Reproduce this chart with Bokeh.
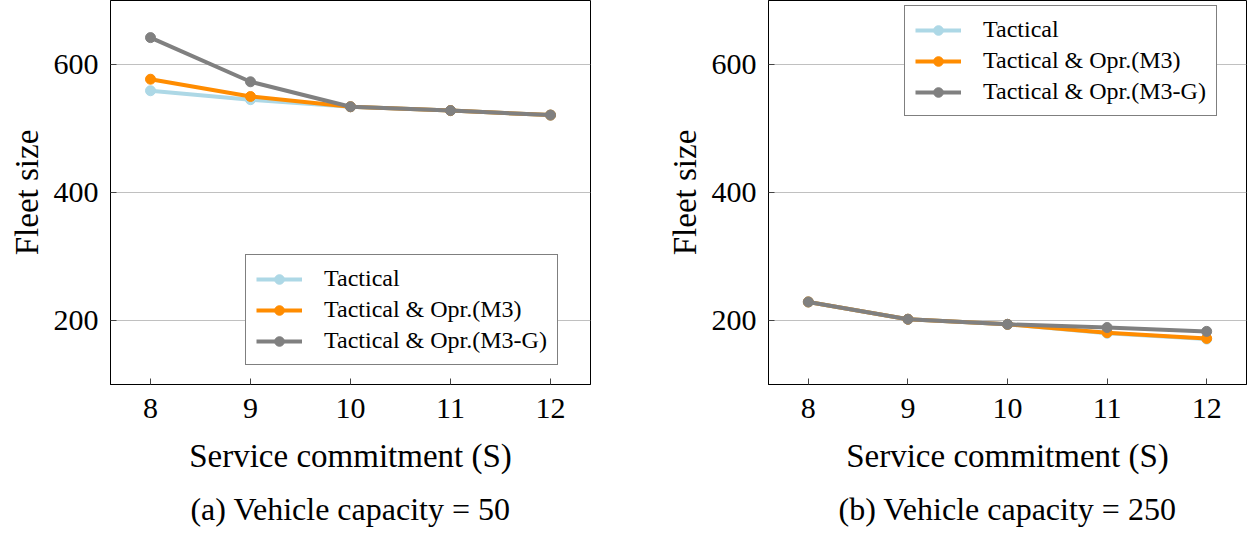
from bokeh.plotting import figure
from bokeh.layouts import row
from bokeh.models import Title, Legend, LegendItem, Range1d, FixedTicker
from bokeh.embed import file_html
from bokeh.resources import INLINE

S = [8, 9, 10, 11, 12]
tactical_50 = [559, 545, 534, 528, 521]
m3_50 = [577, 550, 534, 528, 521]
m3g_50 = [642, 573, 534, 528, 521]
tactical_250 = [229, 202, 194, 180, 171]
m3_250 = [229, 202, 194, 181, 172]
m3g_250 = [229, 202, 194, 189, 183]

series_names = ["Tactical", "Tactical & Opr.(M3)", "Tactical & Opr.(M3-G)"]
colors = ["#add8e6", "#ff8c00", "#808080"]
x_ticks = [8, 9, 10, 11, 12]
y_ticks = [200, 400, 600]
captions = ["(a) Vehicle capacity = 50", "(b) Vehicle capacity = 250"]
FONT = "Liberation Serif"


def make_plot(data, caption, border_left, border_right, frame_w, legend_loc):
    p = figure(frame_width=frame_w, frame_height=384, height=530,
               min_border_left=border_left, min_border_right=border_right,
               min_border_top=0, output_backend="svg", toolbar_location=None,
               x_range=Range1d(7.6, 12.4), y_range=Range1d(100, 700))
    p.background_fill_color = "white"
    p.border_fill_color = "white"
    p.outline_line_color = "black"
    p.outline_line_width = 1
    p.xgrid.visible = False
    p.ygrid.grid_line_color = "#c0c0c0"
    p.ygrid.grid_line_width = 1
    p.xaxis.ticker = FixedTicker(ticks=x_ticks)
    p.yaxis.ticker = FixedTicker(ticks=y_ticks)
    for ax in (p.xaxis[0], p.yaxis[0]):
        ax.major_tick_in = 6
        ax.major_tick_out = 0
        ax.minor_tick_in = 0
        ax.minor_tick_out = 0
        ax.major_tick_line_color = "#444444"
        ax.axis_line_color = "black"
        ax.major_label_text_font = FONT
        ax.major_label_text_font_size = "30px"
        ax.major_label_text_color = "black"
        ax.axis_label_text_font = FONT
        ax.axis_label_text_font_size = "33px"
        ax.axis_label_text_font_style = "normal"
        ax.axis_label_text_color = "black"
    p.xaxis.axis_label = "Service commitment (S)"
    p.yaxis.axis_label = "Fleet size"
    p.xaxis.major_label_standoff = 14
    p.xaxis.axis_label_standoff = 17
    p.yaxis.major_label_standoff = 12
    p.yaxis.axis_label_standoff = 6

    items = []
    for name, col, vals in zip(series_names, colors, data):
        ln = p.line(S, vals, line_color=col, line_width=4)
        sc = p.scatter(S, vals, size=10, fill_color=col, line_color=col)
        items.append(LegendItem(label=name, renderers=[ln, sc]))
    leg = Legend(items=items, location=legend_loc)
    leg.label_text_font = FONT
    leg.label_text_font_size = "24px"
    leg.label_text_color = "black"
    leg.glyph_width = 46
    leg.glyph_height = 24
    leg.label_height = 24
    leg.label_standoff = 22
    leg.spacing = 4
    leg.padding = 10
    leg.margin = 0
    leg.border_line_color = "black"
    leg.border_line_width = 1
    leg.background_fill_color = "white"
    leg.background_fill_alpha = 1
    p.add_layout(leg, "center")

    cap = Title(text=caption, align="center", text_font=FONT,
                text_font_size="32px", text_font_style="normal",
                text_color="black", standoff=24)
    p.add_layout(cap, "below")
    return p


p1 = make_plot([tactical_50, m3_50, m3g_50], captions[0], 110, 73, 480, (135, 19))
p2 = make_plot([tactical_250, m3_250, m3g_250], captions[1], 102, 2, 478, (136, 268))

layout = row(p1, p2)
open("out.html", "w").write(file_html(layout, INLINE))
